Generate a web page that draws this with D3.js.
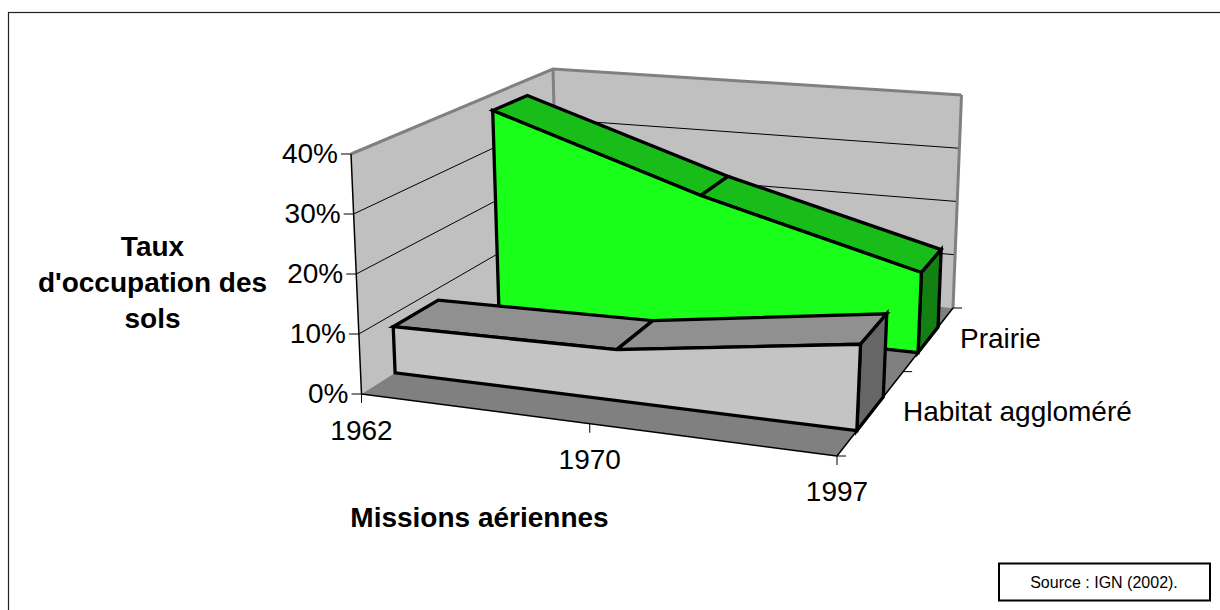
<!DOCTYPE html>
<html>
<head>
<meta charset="utf-8">
<script src="https://cdn.jsdelivr.net/npm/d3@7"></script>
<style>
  html, body { margin: 0; padding: 0; background: #fff; }
  svg { display: block; }
  text { font-family: "Liberation Sans", Arial, sans-serif; fill: #000; }
</style>
</head>
<body>
<script>
const missions = ["1962", "1970", "1997"];
const seriesNames = ["Habitat aggloméré", "Prairie"];
const habitat = [7.9, 8.5, 14];
const prairie = [37, 24.4, 14.2];
const valueTicks = [0, 10, 20, 30, 40];

const width = 1220, height = 610;

const svg = d3.select("body").append("svg")
  .attr("width", width)
  .attr("height", height);

//frame, runs off the page on the right and at the bottom
svg.append("rect").attr("x", 8.5).attr("y", 12.5).attr("width", width).attr("height", height)
  .attr("fill", "#fff").attr("stroke", "#222").attr("stroke-width", 1.2);

//corners of the 3d box, [x, y] on screen. f/b = front/back, l/r = left/right
const box = {
  bottom: { fl: [361.5, 394], fr: [837, 456], bl: [558, 270], br: [953, 308] },
  top: { fl: [351, 154], fr: [848, 202], bl: [553, 69], br: [961.5, 95] }
};

const mix = (a, b, t) => [a[0] + (b[0] - a[0]) * t, a[1] + (b[1] - a[1]) * t];
const plane = (p, x, z) => mix(mix(p.fl, p.fr, x), mix(p.bl, p.br, x), z);
const project = (x, z, y) => mix(plane(box.bottom, x, z), plane(box.top, x, z), y);

//scales. the warp scales fake the perspective foreshortening
const xWarp = d3.scaleLinear().domain([0, 0.5, 1]).range([0, 0.48, 1]);
const zWarp = d3.scaleLinear().domain([0, 0.5, 1]).range([0, 0.57, 1]);
const xScale = d3.scalePoint().domain(missions).range([0, 1]);
const zScale = d3.scaleBand().domain(seriesNames).range([0, 1]).paddingInner(0.6).paddingOuter(0.3);
const yScale = d3.scaleLinear().domain([0, 40]).range([0, 1]);

const pt = (m, z, v) => project(xWarp(xScale(m)), zWarp(z), yScale(v));
const line = d3.line();

const poly = (points, fill, stroke, sw) => svg.append("path")
  .attr("d", line(points) + "Z")
  .attr("fill", fill)
  .attr("stroke", stroke || "none")
  .attr("stroke-width", sw || 0)
  .attr("stroke-linejoin", "miter");

const seg = (a, b, stroke, sw) => svg.append("line")
  .attr("x1", a[0]).attr("y1", a[1]).attr("x2", b[0]).attr("y2", b[1])
  .attr("stroke", stroke).attr("stroke-width", sw);

//walls and floor
const wall = v => [project(0, 0, v), project(0, 1, v), project(1, 1, v)];
poly([project(0, 1, 0), project(1, 1, 0), project(1, 1, 1), project(0, 1, 1)], "#c0c0c0");
poly([project(0, 0, 0), project(0, 1, 0), project(0, 1, 1), project(0, 0, 1)], "#c0c0c0");
poly([project(0, 0, 0), project(1, 0, 0), project(1, 1, 0), project(0, 1, 0)], "#808080");

//gridlines
valueTicks.slice(1, -1).forEach(v => {
  const p = wall(yScale(v));
  seg(p[0], p[1], "#000", 1);
  seg(p[1], p[2], "#000", 1);
});

//wall outline in grey
svg.append("path")
  .attr("d", line(wall(1)))
  .attr("fill", "none").attr("stroke", "#808080").attr("stroke-width", 3);
seg(project(0, 1, 0), project(0, 1, 1), "#808080", 3);
seg(project(1, 1, 0), project(1, 1, 1), "#808080", 3);

//one ribbon per series, back one first
const drawRibbon = (name, values, colors) => {
  const z0 = zScale(name), z1 = z0 + zScale.bandwidth();
  const last = missions.length - 1;
  //top strips
  missions.slice(0, -1).forEach((m, i) => {
    const next = missions[i + 1];
    poly([pt(m, z0, values[i]), pt(next, z0, values[i + 1]), pt(next, z1, values[i + 1]), pt(m, z1, values[i])],
      colors.top, "#000", 3.3);
  });
  //right side
  poly([pt(missions[last], z0, 0), pt(missions[last], z1, 0), pt(missions[last], z1, values[last]), pt(missions[last], z0, values[last])],
    colors.side, "#000", 3.3);
  //front face
  const front = missions.map((m, i) => pt(m, z0, values[i]));
  front.push(pt(missions[last], z0, 0), pt(missions[0], z0, 0));
  poly(front, colors.front, "#000", 3.3);
};

drawRibbon("Prairie", prairie, { front: "#1aff1a", top: "#19bd19", side: "#128012" });
drawRibbon("Habitat aggloméré", habitat, { front: "#c4c4c4", top: "#909090", side: "#666666" });

//axes
seg(project(0, 0, 0), project(0, 0, 1), "#000", 1.5);
seg(project(0, 0, 0), project(1, 0, 0), "#000", 1.5);
seg(project(1, 0, 0), project(1, 1, 0), "#000", 1.5);

valueTicks.forEach(v => {
  const p = project(0, 0, yScale(v));
  seg([p[0] - 10, p[1]], p, "#000", 1);
  svg.append("text")
    .attr("x", p[0] - 13)
    .attr("y", p[1] + 9)
    .attr("text-anchor", "end")
    .attr("font-size", 28)
    .text(v + "%");
});

const xLabelDy = [46, 45, 44.5];
missions.forEach((m, i) => {
  const p = pt(m, 0, 0);
  seg(p, [p[0], p[1] + 9], "#000", 1);
  svg.append("text")
    .attr("x", p[0])
    .attr("y", p[1] + xLabelDy[i])
    .attr("text-anchor", "middle")
    .attr("font-size", 28)
    .text(m);
});

//depth ticks
[0, 0.5, 1].forEach(z => {
  const p = project(1, zWarp(z), 0);
  seg(p, [p[0] + 9, p[1]], "#000", 1);
});

const zLabelPos = { "Prairie": [960, 348], "Habitat aggloméré": [903, 421] };
seriesNames.forEach(n => {
  svg.append("text")
    .attr("x", zLabelPos[n][0])
    .attr("y", zLabelPos[n][1])
    .attr("font-size", 28)
    .text(n);
});

//axis titles
["Taux", "d'occupation des", "sols"].forEach((t, i) => {
  svg.append("text")
    .attr("x", 152.5)
    .attr("y", 256 + i * 36)
    .attr("text-anchor", "middle")
    .attr("font-size", 28)
    .attr("font-weight", "bold")
    .text(t);
});
svg.append("text")
  .attr("x", 479.5)
  .attr("y", 527)
  .attr("text-anchor", "middle")
  .attr("font-size", 28)
  .attr("font-weight", "bold")
  .text("Missions aériennes");

//source box
svg.append("rect")
  .attr("x", 999).attr("y", 563.5).attr("width", 211).attr("height", 37)
  .attr("fill", "#fff").attr("stroke", "#000").attr("stroke-width", 2);
svg.append("text")
  .attr("x", 1104)
  .attr("y", 588)
  .attr("text-anchor", "middle")
  .attr("font-size", 16)
  .text("Source : IGN (2002).");
</script>
</body>
</html>
